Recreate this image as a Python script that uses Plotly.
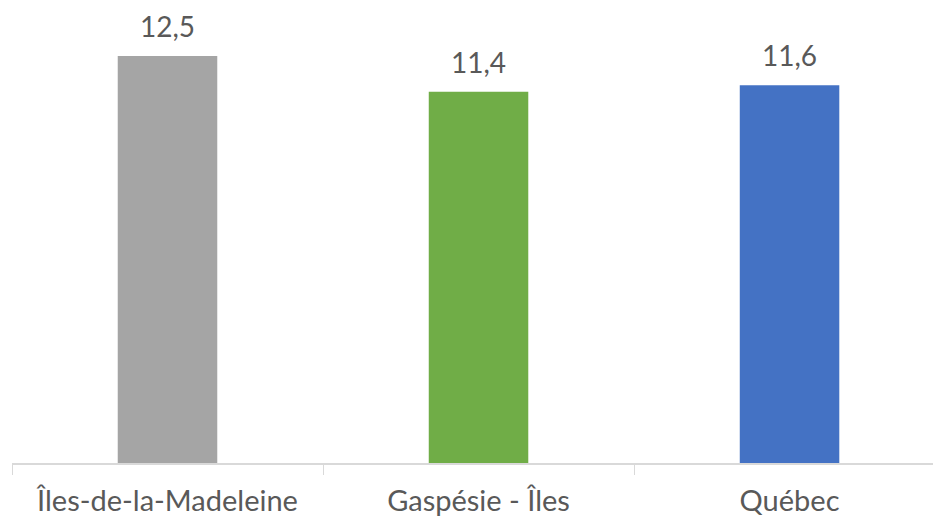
import plotly.graph_objects as go

regions = ['Îles-de-la-Madeleine', 'Gaspésie - Îles', 'Québec']
values = [12.5, 11.4, 11.6]
colors = ['#A5A5A5', '#70AD47', '#4472C4']

# the page body has an 8px margin, so the figure is 8px smaller than the window
fig = go.Figure(go.Bar(
    x=regions,
    y=values,
    marker=dict(color=colors, line=dict(width=0)),
    width=0.32,
    hoverinfo='x+y',
))

for r, v in zip(regions, values):
    fig.add_annotation(
        x=r, y=v,
        text=f'{v:.1f}'.replace('.', ','),
        showarrow=False,
        yanchor='bottom',
        yshift=11,
        font=dict(size=28, color='#595959'),
    )

fig.update_layout(
    width=933,
    height=508,
    margin=dict(l=4, r=0, t=0, b=53),
    font=dict(family='Lato, Open Sans, sans-serif', color='#595959'),
    plot_bgcolor='white',
    paper_bgcolor='white',
    showlegend=False,
    xaxis=dict(
        range=[-0.5, 2.487],
        automargin=False,
        showline=True,
        linecolor='#D9D9D9',
        linewidth=1.5,
        ticks='outside',
        tickson='boundaries',
        ticklen=10,
        tickcolor='#D9D9D9',
        tickfont=dict(size=29, color='#595959'),
        ticklabelstandoff=11,
        showgrid=False,
    ),
    yaxis=dict(
        range=[0, 13.97],
        visible=False,
        showgrid=False,
        fixedrange=True,
    ),
)

fig.write_html('out.html')
